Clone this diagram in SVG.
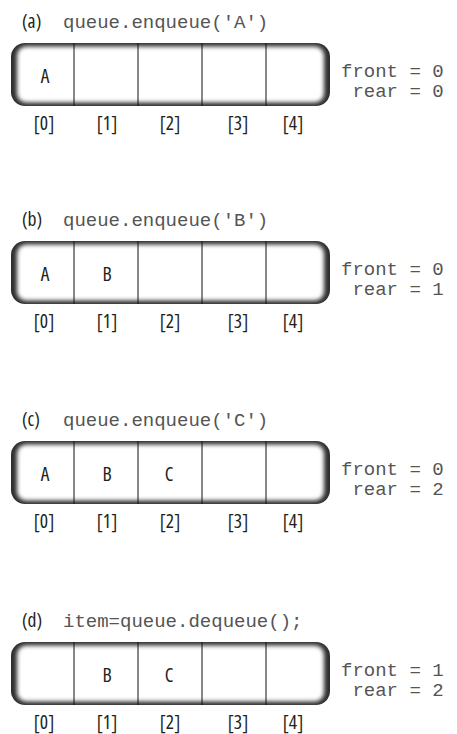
<svg xmlns="http://www.w3.org/2000/svg" xmlns:xlink="http://www.w3.org/1999/xlink" width="457" height="734" viewBox="0 0 457 734">
<style>
.t{font-family:"Open Sans","Roboto",sans-serif;font-stretch:80%;font-size:19.5px;fill:#231f20}
.c{text-anchor:middle}
.m{font-family:"Liberation Mono","Courier New",monospace;font-size:19px;fill:#555}
.d{stroke:#111;stroke-width:1}
</style>
<defs>
<clipPath id="pc"><rect x="0" y="0" width="319" height="63" rx="14"/></clipPath>
<filter id="soft" x="-5%" y="-20%" width="110%" height="140%"><feGaussianBlur stdDeviation="2"/></filter>
<g id="pill">
<rect width="319" height="63" rx="14" fill="#2e2e2e"/>
<g clip-path="url(#pc)"><rect x="6" y="3.5" width="307" height="56" rx="9" fill="#fff" filter="url(#soft)"/></g>
<line class="d" x1="63" y1="0" x2="63" y2="63"/>
<line class="d" x1="127" y1="0" x2="127" y2="63"/>
<line class="d" x1="191" y1="0" x2="191" y2="63"/>
<line class="d" x1="255" y1="0" x2="255" y2="63"/>
</g>
</defs>

<g id="panel-a">
<text class="t" x="22" y="28">(a)</text>
<text class="m" x="63" y="28">queue.enqueue('A')</text>
<use xlink:href="#pill" href="#pill" x="11" y="43"/>
<text class="t c" x="45" y="83">A</text>
<text class="t c" x="44" y="130">[0]</text>
<text class="t c" x="107" y="130">[1]</text>
<text class="t c" x="170" y="130">[2]</text>
<text class="t c" x="238" y="130">[3]</text>
<text class="t c" x="293" y="130">[4]</text>
<text class="m" x="341" y="77">front = 0</text>
<text class="m" x="352.4" y="97">rear = 0</text>
</g>

<g id="panel-b">
<text class="t" x="22" y="226">(b)</text>
<text class="m" x="63" y="226">queue.enqueue('B')</text>
<use xlink:href="#pill" href="#pill" x="11" y="241"/>
<text class="t c" x="45" y="281">A</text>
<text class="t c" x="107" y="281">B</text>
<text class="t c" x="44" y="328">[0]</text>
<text class="t c" x="107" y="328">[1]</text>
<text class="t c" x="170" y="328">[2]</text>
<text class="t c" x="238" y="328">[3]</text>
<text class="t c" x="293" y="328">[4]</text>
<text class="m" x="341" y="275">front = 0</text>
<text class="m" x="352.4" y="295">rear = 1</text>
</g>

<g id="panel-c">
<text class="t" x="22" y="426">(c)</text>
<text class="m" x="63" y="426">queue.enqueue('C')</text>
<use xlink:href="#pill" href="#pill" x="11" y="441"/>
<text class="t c" x="45" y="481">A</text>
<text class="t c" x="107" y="481">B</text>
<text class="t c" x="169" y="481">C</text>
<text class="t c" x="44" y="528">[0]</text>
<text class="t c" x="107" y="528">[1]</text>
<text class="t c" x="170" y="528">[2]</text>
<text class="t c" x="238" y="528">[3]</text>
<text class="t c" x="293" y="528">[4]</text>
<text class="m" x="341" y="475">front = 0</text>
<text class="m" x="352.4" y="495">rear = 2</text>
</g>

<g id="panel-d">
<text class="t" x="22" y="627">(d)</text>
<text class="m" x="63" y="627">item=queue.dequeue();</text>
<use xlink:href="#pill" href="#pill" x="11" y="642"/>
<text class="t c" x="107" y="682">B</text>
<text class="t c" x="169" y="682">C</text>
<text class="t c" x="44" y="729">[0]</text>
<text class="t c" x="107" y="729">[1]</text>
<text class="t c" x="170" y="729">[2]</text>
<text class="t c" x="238" y="729">[3]</text>
<text class="t c" x="293" y="729">[4]</text>
<text class="m" x="341" y="676">front = 1</text>
<text class="m" x="352.4" y="696">rear = 2</text>
</g>
</svg>
